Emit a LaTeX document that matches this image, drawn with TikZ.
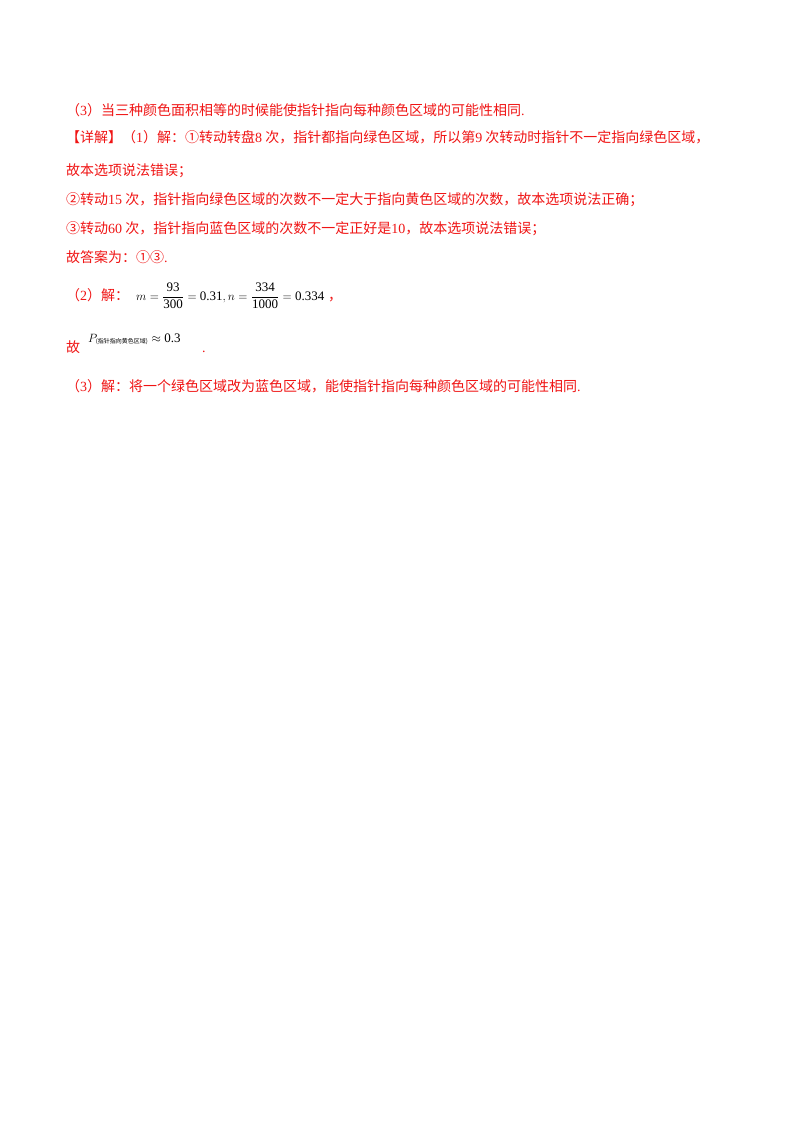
\documentclass[tikz,border=0pt]{standalone}
\usepackage{fontspec}
\usepackage{amsmath}
\setmainfont{Noto Sans CJK SC}
\newfontfamily\tm{Liberation Serif}
\definecolor{rd}{RGB}{240,20,20}
\begin{document}
\begin{tikzpicture}[x=1pt,y=-1pt,
  ln/.style={anchor=base west,inner sep=0pt,text=rd,font=\fontsize{14}{16}\selectfont}]
\useasboundingbox[fill=white] (0,0) rectangle (800,1132);
\node[ln] (l1) at (66,115) {（{\tm 3}）当三种颜色面积相等的时候能使指针指向每种颜色区域的可能性相同{\tm .}};
\node[ln] (l2) at (66,142) {【详解】（{\tm 1}）解：①转动转盘{\tm 8} 次，指针都指向绿色区域，所以第{\tm 9} 次转动时指针不一定指向绿色区域，};
\node[ln] (l3) at (66,175) {故本选项说法错误；};
\node[ln] (l4) at (66,204) {②转动{\tm 15} 次，指针指向绿色区域的次数不一定大于指向黄色区域的次数，故本选项说法正确；};
\node[ln] (l5) at (66,233) {③转动{\tm 60} 次，指针指向蓝色区域的次数不一定正好是{\tm 10}，故本选项说法错误；};
\node[ln] (l6) at (66,262) {故答案为：①③{\tm .}};
\node[ln] (l7) at (66,300) {（{\tm 2}）解：};
\node[anchor=base west,inner sep=0pt,font=\fontsize{13}{15}\selectfont] (m) at (136,300) {$m=\dfrac{\text{\tm 93}}{\text{\tm 300}}=\text{\tm 0.31},n=\dfrac{\text{\tm 334}}{\text{\tm 1000}}=\text{\tm 0.334}$};
\node[ln,anchor=base west] (c7) at (328,300) {，};
\node[ln] (l8) at (66,352) {故};
\node[anchor=base west,inner sep=0pt,font=\fontsize{13}{15}\selectfont] (p) at (88,342) {$P_{\text{\fontsize{6}{7}\selectfont (指针指向黄色区域)}}\approx \text{\tm 0.3}$};
\node[ln] (d8) at (202,352) {{\tm .}};
\node[ln] (l9) at (66,391) {（{\tm 3}）解：将一个绿色区域改为蓝色区域，能使指针指向每种颜色区域的可能性相同{\tm .}};
\end{tikzpicture}
\end{document}
